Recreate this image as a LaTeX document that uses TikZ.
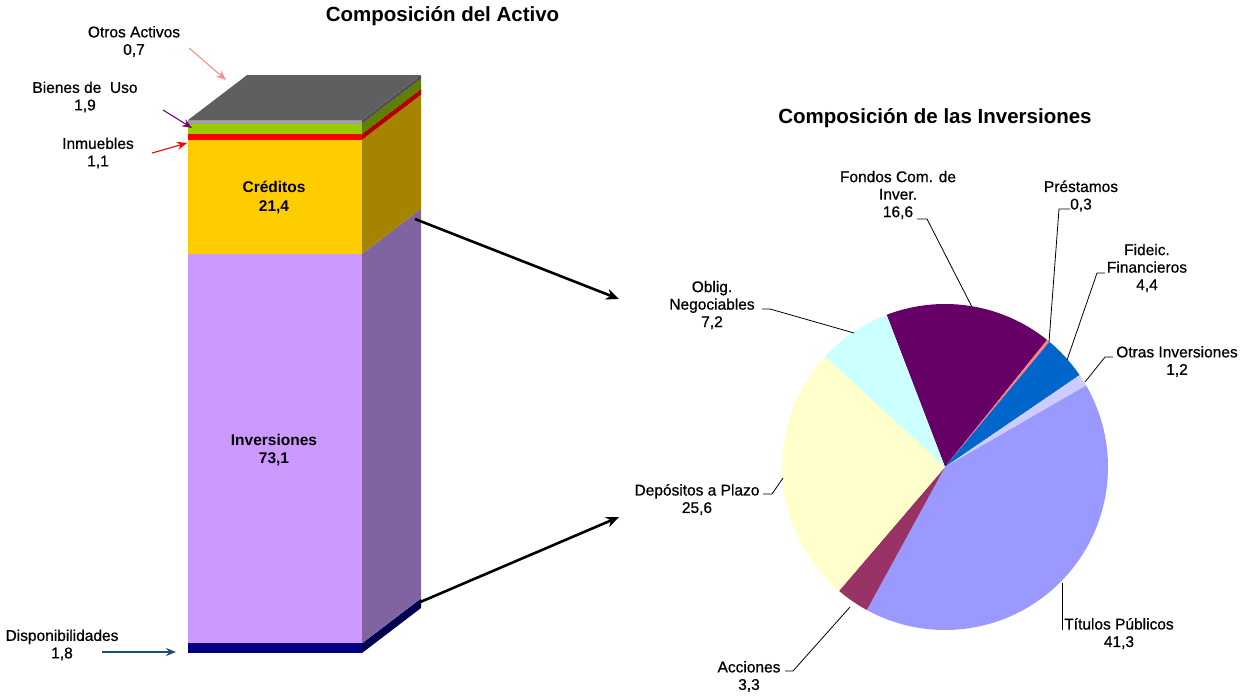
\documentclass[tikz,border=0pt]{standalone}
\usepackage{fontspec}
\setmainfont{Liberation Sans}
\newfontfamily\lblfont{Liberation Sans}[FakeBold=0.7]
\usetikzlibrary{arrows.meta}
\definecolor{otrosF}{HTML}{A0A0A0}
\definecolor{otrosS}{HTML}{505050}
\definecolor{topF}{HTML}{5F5F5F}
\definecolor{bienesF}{HTML}{99CC00}
\definecolor{bienesS}{HTML}{5F7F00}
\definecolor{inmF}{HTML}{FF0000}
\definecolor{inmS}{HTML}{B00000}
\definecolor{credF}{HTML}{FFCC00}
\definecolor{credS}{HTML}{A68400}
\definecolor{invF}{HTML}{CC99FF}
\definecolor{invS}{HTML}{8064A2}
\definecolor{dispF}{HTML}{000080}
\definecolor{dispS}{HTML}{000050}
\definecolor{cFondos}{HTML}{660066}
\definecolor{cPrest}{HTML}{FF8080}
\definecolor{cFideic}{HTML}{0066CC}
\definecolor{cOtras}{HTML}{CCCCFF}
\definecolor{cTitulos}{HTML}{9999FF}
\definecolor{cAcc}{HTML}{993366}
\definecolor{cDep}{HTML}{FFFFCC}
\definecolor{cOblig}{HTML}{CCFFFF}
\definecolor{arrPink}{HTML}{FF8C8C}
\definecolor{arrPurple}{HTML}{800080}
\definecolor{arrBlue}{HTML}{1F4E79}
\newcommand{\barlayer}[4]{%
  \fill[#3] (188,#1) rectangle (362,#2);
  \fill[#4] (362,#1) -- ++(59,-45) -- ++(0,{#2-#1}) -- (362,#2) -- cycle;}
\newcommand{\pieslice}[3]{%
  \fill[#3] (945,467) -- plot[domain=#1:#2, samples=80, variable=\t]
    ({945+163*cos(\t)},{467-163*sin(\t)}) -- cycle;}
\begin{document}
\begin{tikzpicture}[x=1pt,y=-1pt,
  lbl/.style={font=\lblfont\fontsize{15.5}{17.5}\selectfont, align=center, inner sep=0pt},
  blbl/.style={font=\bfseries\fontsize{15.5}{18.5}\selectfont, align=center, inner sep=0pt},
  ttl/.style={font=\bfseries\fontsize{20.5}{24}\selectfont, inner sep=0pt, anchor=base},
  leader/.style={draw=black, line width=0.8pt},
  smallarrow/.style={line width=1.1pt, -{Stealth[length=10pt,width=8pt]}},
  bigarrow/.style={line width=2.6pt, -{Stealth[length=13pt,width=11pt]}}]
\useasboundingbox (0,0) rectangle (1242,696);

% titles
\node[ttl] (t1) at (442.5,21) {Composición del Activo};
\node[ttl] (t2) at (935,123) {Composición de las Inversiones};

% stacked 3D bar
\barlayer{643.4}{653}{dispF}{dispS}
\barlayer{253.8}{643.4}{invF}{invS}
\barlayer{139.7}{253.8}{credF}{credS}
\barlayer{133.9}{139.7}{inmF}{inmS}
\barlayer{123.8}{133.9}{bienesF}{bienesS}
\barlayer{120.1}{123.8}{otrosF}{otrosS}
\fill[topF] (188,120.1) -- (247,75.1) -- (421,75.1) -- (362,120.1) -- cycle;

% bar labels
\node[blbl] (cred) at (274,197.5) {Créditos\\21,4};
\node[blbl] (inv) at (274,450) {Inversiones\\73,1};
\node[lbl] (otros) at (134,41.5) {Otros Activos\\0,7};
\node[lbl] (bienes) at (85,97) {Bienes de\ \ Uso\\1,9};
\node[lbl] (inm) at (98,153) {Inmuebles\\1,1};
\node[lbl] (disp) at (62,645) {Disponibilidades\\1,8};

\coordinate (otrosA) at (189,48);  \coordinate (otrosB) at (226,80);
\coordinate (bienesA) at (163,110); \coordinate (bienesB) at (192,128);
\coordinate (inmA) at (152,153);   \coordinate (inmB) at (187,143);
\coordinate (dispA) at (102,652);  \coordinate (dispB) at (176,652);
\draw[smallarrow, arrPink] (otrosA) -- (otrosB);
\draw[smallarrow, arrPurple] (bienesA) -- (bienesB);
\draw[smallarrow, red] (inmA) -- (inmB);
\draw[smallarrow, arrBlue] (dispA) -- (dispB);

% big arrows
\coordinate (bigA1) at (415,219); \coordinate (bigB1) at (619,299);
\coordinate (bigA2) at (418,603); \coordinate (bigB2) at (619,517);
\draw[bigarrow] (bigA1) -- (bigB1);
\draw[bigarrow] (bigA2) -- (bigB2);

% pie
\pieslice{51.24}{111}{cFondos}
\pieslice{50.16}{51.24}{cPrest}
\pieslice{34.32}{50.16}{cFideic}
\pieslice{30.0}{34.32}{cOtras}
\pieslice{-118.68}{30.0}{cTitulos}
\pieslice{-130.56}{-118.68}{cAcc}
\pieslice{-222.72}{-130.56}{cDep}
\pieslice{-249}{-222.72}{cOblig}

% pie labels
\node[lbl] (oblig) at (712,305) {Oblig.\\Negociables\\7,2};
\node[lbl] (fondos) at (898,195) {Fondos Com. de\\Inver.\\16,6};
\node[lbl] (prest) at (1081,196) {Préstamos\\0,3};
\node[lbl] (fideic) at (1147,268) {Fideic.\\Financieros\\4,4};
\node[lbl] (otrasinv) at (1177,361.5) {Otras Inversiones\\1,2};
\node[lbl] (titulos) at (1119,633.5) {Títulos Públicos\\41,3};
\node[lbl] (acc) at (749,676.5) {Acciones\\3,3};
\node[lbl] (dep) at (697,499.5) {Depósitos a Plazo\\25,6};

% leader lines
\coordinate (oblA) at (762,309);  \coordinate (oblB) at (770,309);  \coordinate (oblC) at (854,333);
\coordinate (fonA) at (917,219);  \coordinate (fonB) at (927,219);  \coordinate (fonC) at (972,307);
\coordinate (preA) at (1070,209); \coordinate (preB) at (1059,209); \coordinate (preC) at (1049,342);
\coordinate (fidA) at (1105,273); \coordinate (fidB) at (1097,273); \coordinate (fidC) at (1067,360);
\coordinate (otrA) at (1113,357); \coordinate (otrB) at (1105,357); \coordinate (otrC) at (1085,382);
\coordinate (titA) at (1062,630); \coordinate (titC) at (1062,583);
\coordinate (accA) at (785,671);  \coordinate (accB) at (793,671);  \coordinate (accC) at (850,607);
\coordinate (depA) at (763,494);  \coordinate (depB) at (772,494);  \coordinate (depC) at (783,478);
\draw[leader] (oblA) -- (oblB) -- (oblC);
\draw[leader] (fonA) -- (fonB) -- (fonC);
\draw[leader] (preA) -- (preB) -- (preC);
\draw[leader] (fidA) -- (fidB) -- (fidC);
\draw[leader] (otrA) -- (otrB) -- (otrC);
\draw[leader] (titA) -- (titC);
\draw[leader] (accA) -- (accB) -- (accC);
\draw[leader] (depA) -- (depB) -- (depC);
\end{tikzpicture}
\end{document}
